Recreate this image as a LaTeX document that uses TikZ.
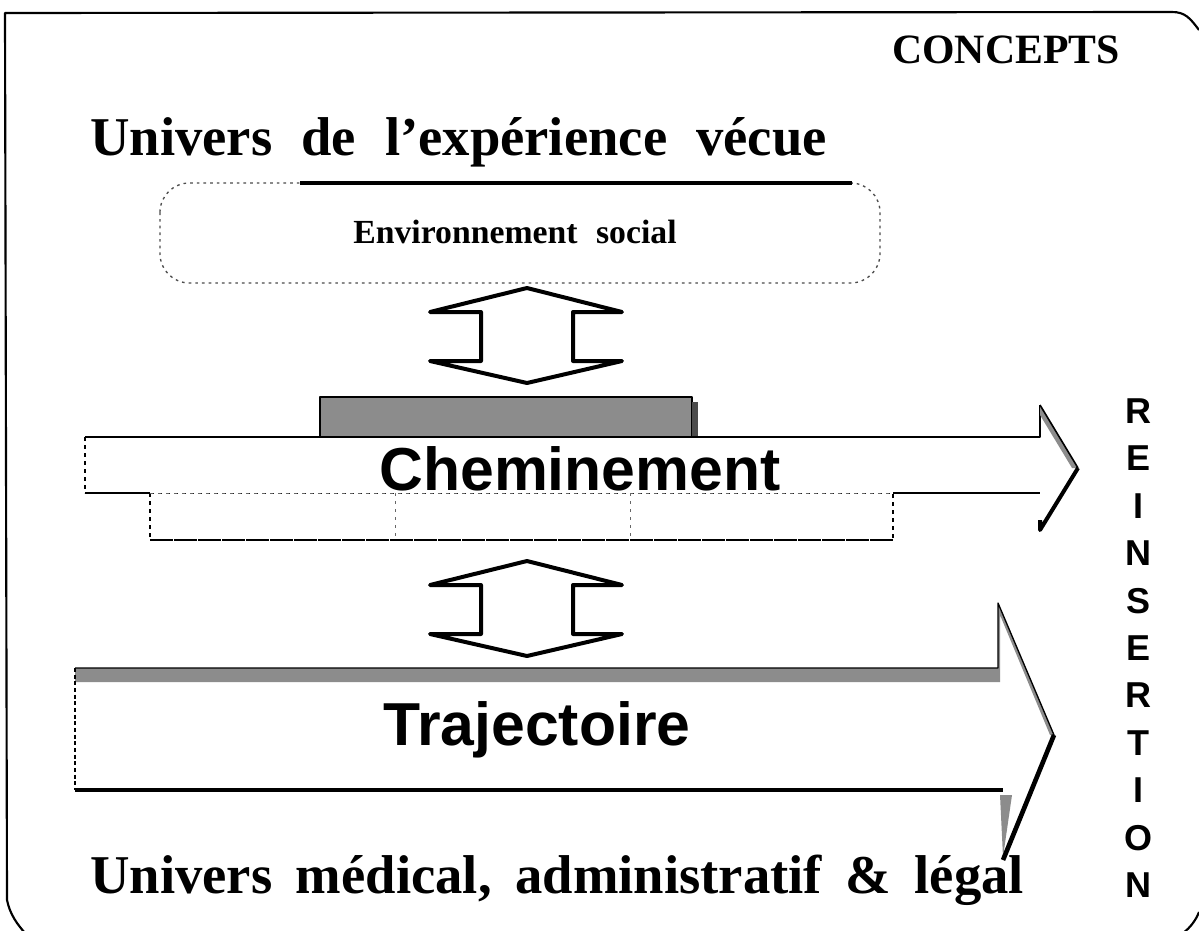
\documentclass[tikz,border=0pt]{standalone}
\usepackage{fontspec}
\setmainfont{Liberation Serif}
\setsansfont{Liberation Sans}
\begin{document}
\begin{tikzpicture}[x=0.75pt,y=-0.75pt,line join=round,
  frame/.style={line width=1.6pt},
  serifbig/.style={font=\fontsize{41}{41}\selectfont\bfseries, inner sep=0pt},
  sansbig/.style={font=\sffamily\fontsize{45.5}{46}\selectfont\bfseries, inner sep=0pt},
  letter/.style={font=\sffamily\fontsize{27}{27}\selectfont\bfseries, inner sep=0pt, anchor=base},
  dblarrow/.style={draw, line width=3pt, fill=white},
  shade/.style={fill=black!45},
]
\useasboundingbox (0,0) rectangle (1199,931);
% frame
\draw[frame] (1199,30) .. controls (1190,18) and (1185,12) .. (1172,12) -- (5,13) -- (7,900) .. controls (10,915) and (18,925) .. (25,933);
\draw[frame] (1183,933) .. controls (1190,928) and (1196,920) .. (1199,912);
% headings
\node[font=\fontsize{31.3}{32}\selectfont\bfseries, inner sep=0pt] (concepts) at (1006,50) {CONCEPTS};
\node[serifbig, anchor=base west] (vecue) at (90,155) {Univers\hspace{0.28em} de\hspace{0.28em} l’expérience\hspace{0.28em} vécue};
\node[serifbig, anchor=base west] (medical) at (90,893) {Univers\hspace{0.18em} médical,\hspace{0.18em} administratif\hspace{0.18em} \&\hspace{0.18em} légal};
% environnement social box
\draw[black!70, line width=1pt, dash pattern=on 2pt off 3pt, rounded corners=22] (160,183) rectangle (880,283);
\draw[line width=2.4pt] (300,183) -- (852,183);
\node[font=\fontsize{25.3}{26}\selectfont\bfseries, inner sep=0pt, anchor=base] (env) at (515,243) {Environnement\hspace{0.3em} social};
% double arrows
\draw[dblarrow] (527,288) -- (622,312) -- (573,312) -- (573,361) -- (622,361) -- (527,383) -- (430,361) -- (481,361) -- (481,312) -- (430,312) -- cycle;
\draw[dblarrow] (527,561) -- (622,585) -- (573,585) -- (573,634) -- (622,634) -- (527,656) -- (430,634) -- (481,634) -- (481,585) -- (430,585) -- cycle;
% Cheminement arrow
\draw[line width=1.5pt, shade] (320,397) rectangle (692,437);
\fill[black!70] (692,402) rectangle (698,437);
\draw[line width=0.8pt, dash pattern=on 3pt off 3pt] (150,493) rectangle (893,540);
\draw[line width=2pt, dash pattern=on 8pt off 1pt] (150,540) -- (893,540);
\draw[line width=0.6pt, dash pattern=on 2pt off 4pt, black!60] (395,493) -- (395,540) (630,493) -- (630,540);
\fill[white] (85,437) -- (1040,437) -- (1040,405) -- (1078,468) -- (1040,530) -- (1040,493) -- (85,493) -- cycle;
\draw[line width=1.5pt] (85,437) -- (1040,437) -- (1040,405);
\fill[shade] (1040,405) -- (1078,468) -- (1072,468) -- (1040,415) -- cycle;
\draw[line width=1.2pt] (1040,405) -- (1078,468);
\draw[line width=3pt] (1078,468) -- (1040,530) -- (1040,520);
\draw[line width=1.6pt] (893,493) -- (1040,493);
\draw[line width=1.6pt] (85,493) -- (150,493);
\draw[line width=0.8pt, dash pattern=on 3pt off 3pt] (85,437) -- (85,493);
\draw[line width=0.6pt, dash pattern=on 2pt off 4pt, black!60] (150,493) -- (893,493);
\node[sansbig, anchor=base] (chem) at (580,490) {Cheminement};
% Trajectoire arrow
\fill[white] (75,682) -- (1000,682) -- (1000,615) -- (1050,735) -- (1003,857) -- (1003,790) -- (75,790) -- cycle;
\fill[shade] (75,668) -- (998,668) -- (998,603) -- (1054,735) -- (1050,735) -- (1000,615) -- (1000,682) -- (75,682) -- cycle;
\draw[line width=1pt] (75,668) -- (998,668) -- (998,603) -- (1054,735);
\fill[shade] (1000,795) -- (1012,795) -- (1003,857) -- cycle;
\draw[line width=3.5pt] (1054,735) -- (1003,860);
\draw[line width=2.5pt] (75,790) -- (1003,790);
\draw[line width=1pt, dash pattern=on 3pt off 2pt] (75,668) -- (75,790);
\node[sansbig, anchor=base] (traj) at (537,745) {Trajectoire};
% REINSERTION
\foreach \l/\y [count=\i] in {R/410,E/457,I/505,N/552,S/600,E/647,R/694,T/742,I/789,O/837,N/884}
  \node[letter] (rein\i) at (1138,\y+13) {\l};
\end{tikzpicture}
\end{document}
